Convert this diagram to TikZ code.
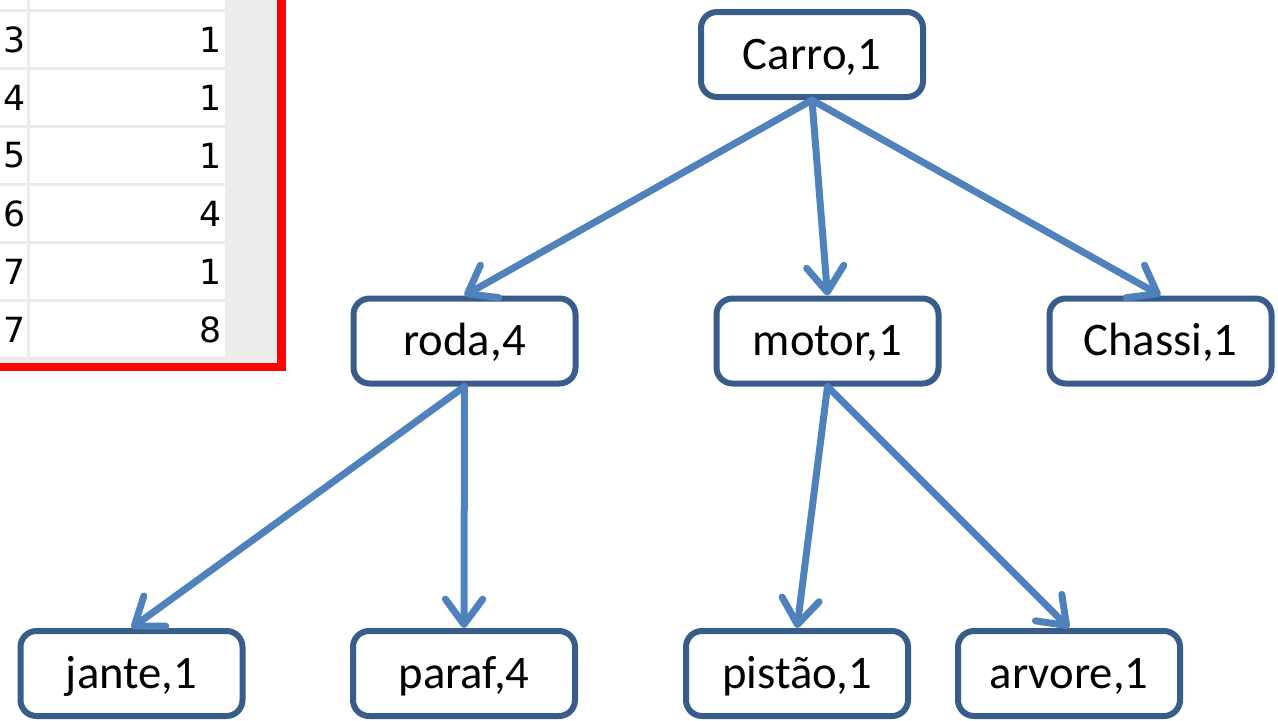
\documentclass[tikz,border=0pt]{standalone}
\usepackage{fontspec}
\setmainfont{Carlito}
\newfontfamily\gridfont{DejaVu Sans}
\usetikzlibrary{arrows.meta,positioning}
\definecolor{boxedge}{RGB}{56,93,138}
\definecolor{linkblue}{RGB}{79,129,189}
\definecolor{gridgray}{RGB}{236,236,236}
\definecolor{framered}{RGB}{255,0,0}
\tikzset{
  part/.style={draw=boxedge,fill=white,rounded corners=12pt,line width=4.5pt,
               minimum width=166.5pt,minimum height=63.75pt,inner sep=0pt,
               text height=22pt,text depth=0pt,
               font=\fontsize{35}{40}\selectfont},
  link/.style={linkblue,line width=5.25pt,line cap=round,
               -{Straight Barb[length=19pt,width=28pt,round]}},
  num/.style={font=\gridfont\fontsize{26}{30}\selectfont,inner sep=0pt,text=black}
}
\begin{document}
\begin{tikzpicture}[x=0.75pt,y=-0.75pt]
  \useasboundingbox (0,0) rectangle (1278,721);
  % Spreadsheet fragment cut off at the left edge.
  \fill[gridgray] (0,0) rectangle (277,363);
  \fill[white] (0,0) rectangle (27,9);
  \fill[white] (30,0) rectangle (225,9);
  \foreach \i/\a/\b in {1/3/1,2/4/1,3/5/1,4/6/4,5/7/1,6/7/8} {
    \fill[white] (0,58*\i-46) rectangle (27,58*\i+9);
    \fill[white] (30,58*\i-46) rectangle (225,58*\i+9);
    \node[num,anchor=west] (idx\i) at (3,58*\i-18.5) {\a};
    \node[num,anchor=east] (qty\i) at (222,58*\i-18.5) {\b};
  }
  \fill[framered] (277,0) rectangle (286,371);
  \fill[framered] (0,363) rectangle (286,371);

  % Parts tree with quantities.
  \node[part] (carro) at (812,54.5) {Carro,1};
  \node[part] (roda) at (464.5,341) {roda,4};
  \node[part] (motor) at (827.5,341) {motor,1};
  \node[part] (chassi) at (1160.5,341) {Chassi,1};
  \node[part] (jante) at (131.5,673.5) {jante,1};
  \node[part] (paraf) at (464,673.5) {paraf,4};
  \node[part] (pistao) at (797,673.5) {pistão,1};
  \node[part] (arvore) at (1069,673.5) {arvore,1};

  \foreach \a/\b in {carro/roda,carro/motor,carro/chassi,roda/jante,roda/paraf,motor/pistao,motor/arvore}
    {\draw[link] (\a.south)--(\b.north);}
\end{tikzpicture}
\end{document}
